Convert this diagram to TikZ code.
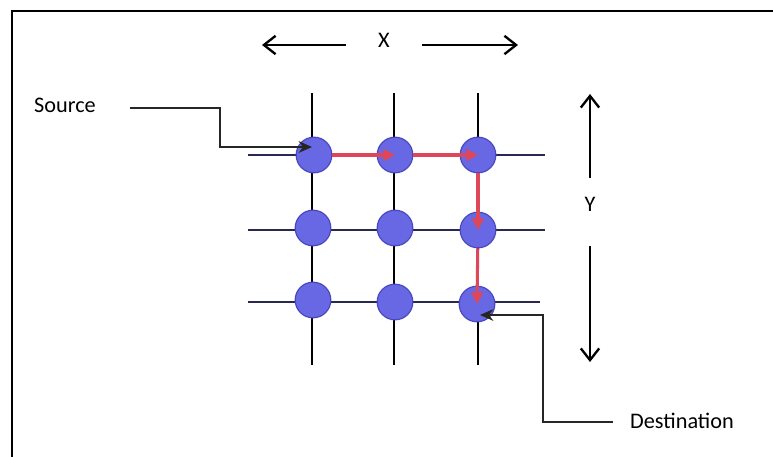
\documentclass[tikz,border=0pt]{standalone}
\usepackage{fontspec}
\setmainfont{Carlito}
\usepackage{xcolor}
\usepackage{tikz}
\usetikzlibrary{arrows.meta,positioning,calc}
\definecolor{nodeblue}{RGB}{104,104,228}
\definecolor{nodeedge}{RGB}{72,72,190}
\definecolor{pathred}{RGB}{222,70,90}
\definecolor{gridnavy}{RGB}{40,40,80}

\begin{document}
\begin{tikzpicture}[
    x=0.03cm, y=-0.03cm,
    router/.style={circle, draw=nodeedge, line width=1pt, fill=nodeblue, minimum size=1.07cm, inner sep=0pt},
    lbl/.style={font=\fontsize{19}{22}\selectfont, inner sep=0pt},
    wire/.style={line width=2pt, draw=gridnavy},
    hop/.style={-{Triangle[length=3.5mm,width=3.5mm]}, line width=2.6pt, draw=pathred},
    ptr/.style={-{Stealth[length=4mm,width=3.5mm]}, line width=2pt, draw=black!85},
    dir/.style={-{Straight Barb[length=3.5mm,width=5.5mm]}, line width=2pt},
]
    \useasboundingbox (0,0) rectangle (773,457);
    % Frame
    \draw[line width=2pt] (12,457) -- (12,11) -- (773,11);

    % Grid wires
    \coordinate (t1) at (312,93);  \coordinate (b1) at (312,365);
    \coordinate (t2) at (394,93);  \coordinate (b2) at (394,365);
    \coordinate (t3) at (478,93);  \coordinate (b3) at (478,365);
    \coordinate (l1) at (248,155); \coordinate (r1) at (545,155);
    \coordinate (l2) at (248,230); \coordinate (r2) at (545,230);
    \coordinate (l3) at (248,302); \coordinate (r3) at (540,302);
    \draw[wire, draw=black] (t1) -- (b1);
    \draw[wire, draw=black] (t2) -- (b2);
    \draw[wire, draw=black] (t3) -- (b3);
    \draw[wire] (l1) -- (r1);
    \draw[wire] (l2) -- (r2);
    \draw[wire] (l3) -- (r3);

    % Routers
    \node[router] (n11) at (314,155) {};
    \node[router] (n12) at (395,155) {};
    \node[router] (n13) at (478,155) {};
    \node[router] (n21) at (313,228) {};
    \node[router] (n22) at (395,228) {};
    \node[router] (n23) at (478,230) {};
    \node[router] (n31) at (313,300) {};
    \node[router] (n32) at (395,302) {};
    \node[router] (n33) at (477,304) {};

    % Route
    \draw[hop] (n11) -- (n12.center);
    \draw[hop] (n12) -- (n13.center);
    \draw[hop] (n13) -- (n23.center);
    \draw[hop] (n23) -- (n33.center);

    % Labels
    \node[lbl] (src) at (65,105) {Source};
    \node[lbl] (dst) at (682,421) {Destination};
    \node[lbl] (xlab) at (384,40) {X};
    \node[lbl] (ylab) at (590,204) {Y};

    % Source pointer
    \coordinate (s0) at (130,108);
    \coordinate (s1) at (220,147);
    \coordinate (s2) at (312,147);
    \draw[ptr] (s0) -| (s1) -- (s2);

    % Destination pointer
    \coordinate (d0) at (613,422);
    \coordinate (d1) at (543,315);
    \coordinate (d2) at (480,315);
    \draw[ptr] (d0) -| (d1) -- (d2);

    % Axis arrows
    \coordinate (xl) at (262,45);  \coordinate (xr) at (518,45);
    \coordinate (yt) at (590,94);  \coordinate (yb) at (590,362);
    \draw[dir] ($(xlab.west)+(-32,5)$) -- (xl);
    \draw[dir] ($(xlab.east)+(32,5)$) -- (xr);
    \draw[dir] ($(ylab.north)+(0,-19)$) -- (yt);
    \draw[dir] ($(ylab.south)+(0,35)$) -- (yb);
\end{tikzpicture}
\end{document}
